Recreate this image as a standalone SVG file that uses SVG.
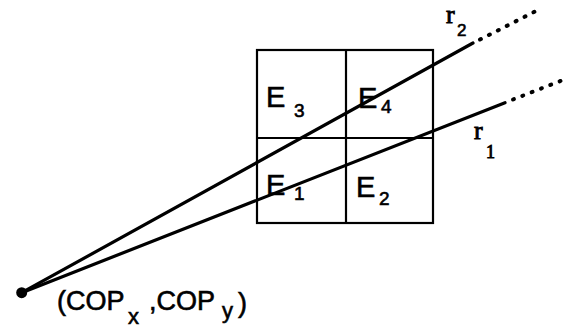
<svg xmlns="http://www.w3.org/2000/svg" width="565" height="330" viewBox="0 0 565 330">
<style>
.grid{fill:none;stroke:#000;stroke-width:2.2}
.ray{fill:none;stroke:#000;stroke-width:3.2;stroke-linecap:round}
.dot{fill:none;stroke:#000;stroke-width:4;stroke-linecap:round;stroke-dasharray:1 9}
.s{font-family:"Liberation Sans",Arial,sans-serif;fill:#000;stroke:#000;stroke-width:0.6}
.m{font-family:"Liberation Serif","Times New Roman",serif;fill:#000;stroke:#000;stroke-width:0.9}
</style>
<rect width="565" height="330" fill="#fff"/>
<g id="grid">
<rect class="grid" x="257" y="50" width="176" height="173"/>
<line class="grid" x1="346" y1="50" x2="346" y2="223"/>
<line class="grid" x1="257" y1="138" x2="433" y2="138"/>
</g>
<g id="E3"><text class="s" x="266" y="107" font-size="29">E</text><text class="s" x="294" y="117" font-size="19">3</text></g>
<g id="E4"><text class="s" x="358" y="108" font-size="29">E</text><text class="s" x="381" y="113" font-size="19">4</text></g>
<g id="E1"><text class="s" x="266" y="195" font-size="29">E</text><text class="s" x="294" y="200" font-size="19">1</text></g>
<g id="E2"><text class="s" x="356" y="197" font-size="29">E</text><text class="s" x="379" y="205" font-size="19">2</text></g>
<g id="connectors">
<line class="ray" x1="21.7" y1="292.7" x2="473" y2="43"/>
<line class="dot" x1="480" y1="39.5" x2="536" y2="11"/>
<line class="ray" x1="21.7" y1="292.7" x2="505" y2="102.7"/>
<line class="dot" x1="513" y1="99.5" x2="563" y2="80"/>
</g>
<g id="COP">
<circle cx="21.7" cy="292.7" r="5.5" fill="#000"/>
<text class="s" x="57" y="310" font-size="27">(COP</text>
<text class="s" x="128" y="324" font-size="22">x</text>
<text class="s" x="149" y="310" font-size="27">,COP</text>
<text class="s" x="222" y="318" font-size="22">y</text>
<text class="s" x="238" y="312" font-size="27">)</text>
</g>
<g id="r2"><text class="m" x="446" y="23" font-size="26">r</text><text class="s" x="457" y="36" font-size="17">2</text></g>
<g id="r1"><text class="m" x="474" y="139" font-size="26">r</text><text class="m" x="486" y="158" font-size="18">1</text></g>
</svg>
